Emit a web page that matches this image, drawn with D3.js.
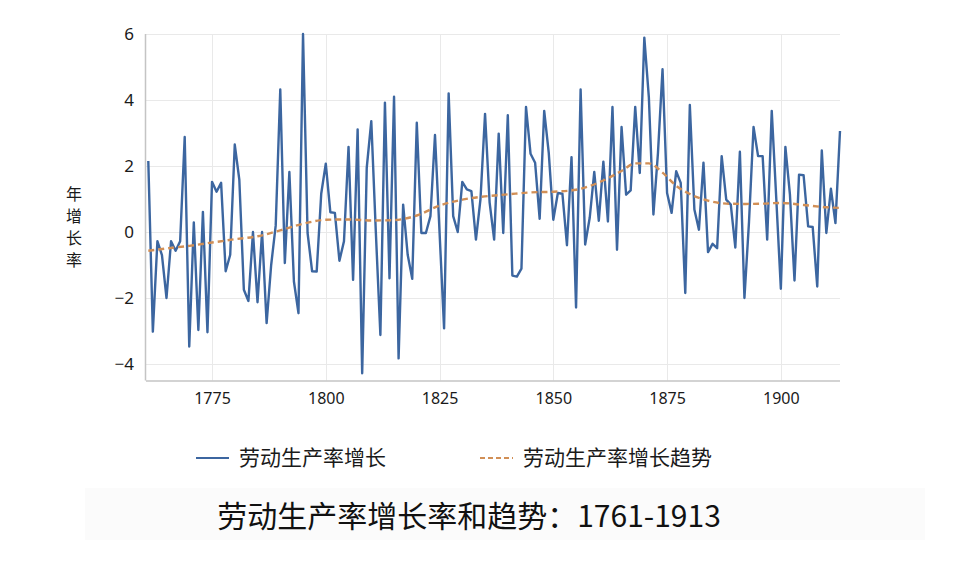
<!DOCTYPE html>
<html>
<head>
<meta charset="utf-8">
<script src="https://cdn.jsdelivr.net/npm/d3@7"></script>
<style>
    html, body { margin: 0; padding: 0; background: #ffffff; }
    #chart-productivity { width: 960px; height: 569px; }
</style>
</head>
<body>
<div id="chart-productivity"></div>
<script>
// 연도 범위
var startYear = 1761;
var endYear = 1913;

// 劳动生产率增长 (annual, 1761-1913)
var growthValues = [
    2.15, -3.02, -0.28, -0.7, -2.0, -0.28, -0.57, -0.28, 2.88, -3.47,
    0.29, -2.97, 0.61, -3.04, 1.52, 1.22, 1.49, -1.19, -0.69, 2.65,
    1.59, -1.75, -2.09, 0.0, -2.13, 0.0, -2.76, -1.0, 0.2, 4.32,
    -0.94, 1.82, -1.5, -2.46, 6.0, -0.03, -1.19, -1.2, 1.16, 2.07,
    0.6, 0.58, -0.87, -0.28, 2.58, -1.45, 3.11, -4.28, 1.94, 3.36,
    0.0, -3.12, 3.92, -1.4, 4.1, -3.83, 0.83, -0.69, -1.42, 3.31,
    -0.03, -0.03, 0.48, 2.94, 0.0, -2.92, 4.2, 0.48, 0.0, 1.52,
    1.29, 1.24, -0.23, 1.0, 3.58, 0.9, -0.23, 2.98, -0.03, 3.54,
    -1.32, -1.35, -1.11, 3.79, 2.37, 2.1, 0.4, 3.67, 2.4, 0.37,
    1.18, 1.16, -0.4, 2.27, -2.29, 4.32, -0.38, 0.43, 1.82, 0.34,
    2.13, 0.32, 3.79, -0.54, 3.18, 1.13, 1.26, 3.79, 1.79, 5.89,
    4.07, 0.53, 2.4, 4.93, 1.18, 0.58, 1.84, 1.49, -1.85, 3.85,
    0.68, 0.07, 2.1, -0.61, -0.36, -0.49, 2.3, 0.98, 0.83, -0.47,
    2.43, -2.0, 0.3, 3.18, 2.3, 2.3, -0.23, 3.67, 1.0, -1.72,
    2.58, 1.13, -1.47, 1.74, 1.72, 0.17, 0.15, -1.65, 2.47, -0.03,
    1.31, 0.27, 3.06
];

// 劳动生产率增长趋势
var trendYears = [
    1761, 1765, 1770, 1775, 1780, 1785, 1790, 1795, 1800, 1805,
    1810, 1815, 1820, 1825, 1830, 1835, 1840, 1845, 1850, 1855,
    1860, 1865, 1868, 1871, 1874, 1877, 1880, 1884, 1888, 1892,
    1896, 1900, 1905, 1910, 1913
];
var trendValues = [
    -0.57, -0.5, -0.42, -0.32, -0.22, -0.13, 0.05, 0.25, 0.37, 0.38,
    0.35, 0.36, 0.5, 0.8, 0.98, 1.08, 1.14, 1.2, 1.22, 1.28,
    1.5, 1.85, 2.08, 2.08, 1.8, 1.4, 1.15, 0.95, 0.86, 0.85,
    0.86, 0.88, 0.82, 0.75, 0.73
];

var yTicks = [-4, -2, 0, 2, 4, 6];
var xTicks = [1775, 1800, 1825, 1850, 1875, 1900];

var seriesNames = ["劳动生产率增长", "劳动生产率增长趋势"];
var yAxisTitle = "年增长率";
var chartTitle = "劳动生产率增长率和趋势：1761-1913";

var colors = { growth: "#3c66a0", trend: "#d18f56", grid: "#e9e9e9", axis: "#c4c4c4", text: "#1a1a1a" };

var drawChart = function () {
    var width = 960;
    var height = 569;
    var plot = { left: 146, right: 840, top: 34, bottom: 380.5 };
    var cjk = "'Noto Sans CJK SC', 'Noto Sans', sans-serif";

    var svg = d3
        .select("#chart-productivity")
        .append("svg")
        .attr("width", width)
        .attr("height", height)
        .attr("viewBox", "0 0 " + width + " " + height);

    var x = d3.scaleLinear().domain([startYear, endYear]).range([148.3, plot.right]);
    var y = d3.scaleLinear().domain([-4.5, 6]).range([plot.bottom, plot.top]);

    var growth = growthValues.map(function (v, i) {
        return { year: startYear + i, value: v };
    });
    var trend = trendYears.map(function (yr, i) {
        return { year: yr, value: trendValues[i] };
    });

    // faint band behind title
    svg.append("rect")
        .attr("x", 85).attr("y", 488).attr("width", 840).attr("height", 52)
        .style("fill", "#fbfbfb");

    // gridlines
    svg.append("g")
        .selectAll("line")
        .data(yTicks)
        .enter()
        .append("line")
        .attr("x1", plot.left)
        .attr("x2", plot.right)
        .attr("y1", function (d) { return Math.round(y(d)) + 0.5; })
        .attr("y2", function (d) { return Math.round(y(d)) + 0.5; })
        .style("stroke", colors.grid)
        .style("stroke-width", 1);

    svg.append("g")
        .selectAll("line")
        .data(xTicks)
        .enter()
        .append("line")
        .attr("x1", function (d) { return Math.round(x(d)) + 0.5; })
        .attr("x2", function (d) { return Math.round(x(d)) + 0.5; })
        .attr("y1", plot.top)
        .attr("y2", plot.bottom)
        .style("stroke", colors.grid)
        .style("stroke-width", 1);

    // axes
    var xAxis = d3.axisBottom(x).tickValues(xTicks).tickSize(0).tickPadding(12).tickFormat(d3.format("d"));
    var yAxis = d3.axisLeft(y).tickValues(yTicks).tickSize(0).tickPadding(12);

    var gx = svg.append("g")
        .attr("transform", "translate(0," + plot.bottom + ")")
        .call(xAxis);
    gx.select(".domain").attr("d", "M" + plot.left + ",0.5H" + plot.right).style("stroke", colors.axis).style("stroke-width", 1.5);
    gx.selectAll("text")
        .style("font-family", "'Noto Sans', sans-serif")
        .style("font-size", "16px")
        .style("fill", colors.text);

    var gy = svg.append("g")
        .attr("transform", "translate(" + plot.left + ",0)")
        .call(yAxis);
    gy.select(".domain").attr("d", "M-0.5," + plot.top + "V" + plot.bottom).style("stroke", colors.axis).style("stroke-width", 1.5);
    gy.selectAll("text")
        .style("font-family", "'Noto Sans', sans-serif")
        .style("font-size", "17px")
        .style("fill", colors.text);

    // y title, one char per line
    svg.append("g")
        .selectAll("text")
        .data(yAxisTitle.split(""))
        .enter()
        .append("text")
        .attr("x", 74)
        .attr("y", function (d, i) { return 194 + i * 22; })
        .attr("dy", "0.35em")
        .attr("text-anchor", "middle")
        .style("font-family", cjk)
        .style("font-size", "16px")
        .style("fill", colors.text)
        .text(function (d) { return d; });

    // series
    var line = d3.line()
        .x(function (d) { return x(d.year); })
        .y(function (d) { return y(d.value); });

    svg.append("path")
        .datum(growth)
        .attr("d", line)
        .style("fill", "none")
        .style("stroke", colors.growth)
        .style("stroke-width", 2.4)
        .style("stroke-linejoin", "round");

    svg.append("path")
        .datum(trend)
        .attr("d", line.curve(d3.curveMonotoneX))
        .style("fill", "none")
        .style("stroke", colors.trend)
        .style("stroke-width", 2.4)
        .style("stroke-dasharray", "6,4");

    // legend
    var legend = svg.append("g");
    var legendItems = [
        { name: seriesNames[0], x: 196, color: colors.growth, dash: null },
        { name: seriesNames[1], x: 480, color: colors.trend, dash: "5,3" }
    ];
    legendItems.forEach(function (item) {
        legend.append("line")
            .attr("x1", item.x).attr("x2", item.x + 33)
            .attr("y1", 458).attr("y2", 458)
            .style("stroke", item.color)
            .style("stroke-width", 2)
            .style("stroke-dasharray", item.dash);
        legend.append("text")
            .attr("x", item.x + 43)
            .attr("y", 458)
            .attr("dy", "0.35em")
            .style("font-family", cjk)
            .style("font-size", "21px")
            .style("fill", colors.text)
            .text(item.name);
    });

    // title
    svg.append("text")
        .attr("x", 469)
        .attr("y", 516)
        .attr("dy", "0.35em")
        .attr("text-anchor", "middle")
        .style("font-family", cjk)
        .style("font-size", "30px")
        .style("fill", "#111111")
        .text(chartTitle);
};

drawChart();
</script>
</body>
</html>
